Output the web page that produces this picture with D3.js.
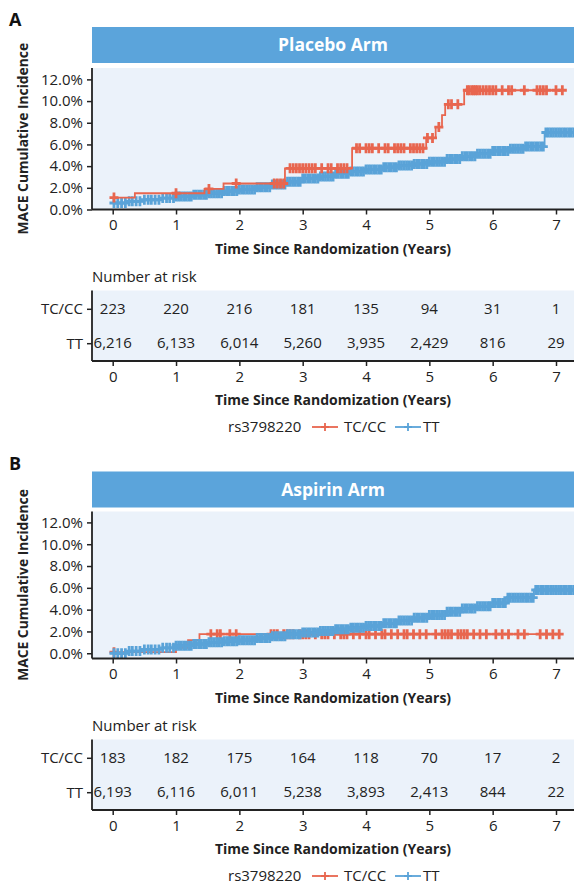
<!DOCTYPE html>
<html>
<head>
<meta charset="utf-8">
<script src="https://cdn.jsdelivr.net/npm/d3@7/dist/d3.min.js"></script>
<style>
  body { margin: 0; background: #fff; }
  svg { font-family: "Open Sans", sans-serif; }
</style>
</head>
<body>
<svg id="chart" width="574" height="884"></svg>
<script>
// ---- data ----
var years = [0, 1, 2, 3, 4, 5, 6, 7];
var yTicks = [0, 2, 4, 6, 8, 10, 12];
var groups = ["TC/CC", "TT"];

// cumulative incidence (%) step points [years, %]
var placeboTCCC = [[0, 1.1], [0.35, 1.5], [1.45, 1.9], [1.75, 2.4], [2.72, 3.8], [3.78, 5.65], [4.95, 6.6],
  [5.1, 7.6], [5.2, 8.7], [5.25, 9.7], [5.55, 11.0]];
var placeboTT = [[0, 0.6], [0.25, 0.75], [0.5, 0.9], [0.75, 1.05], [1, 1.2], [1.25, 1.35], [1.5, 1.5],
  [1.75, 1.7], [2, 1.85], [2.25, 2.05], [2.5, 2.3], [2.75, 2.55], [3, 2.85], [3.25, 3.05], [3.5, 3.3],
  [3.75, 3.5], [4, 3.7], [4.25, 3.9], [4.5, 4.05], [4.75, 4.2], [5, 4.4], [5.25, 4.65], [5.5, 4.9],
  [5.75, 5.15], [6, 5.4], [6.25, 5.6], [6.5, 5.8], [6.82, 7.1]];
var aspirinTCCC = [[0, 0.1], [1.0, 0.5], [1.19, 1.2], [1.37, 1.75]];
var aspirinTT = [[0, 0], [0.25, 0.2], [0.5, 0.35], [0.75, 0.5], [1, 0.7], [1.25, 0.85], [1.5, 1.0],
  [1.75, 1.1], [2, 1.2], [2.25, 1.4], [2.5, 1.55], [2.75, 1.75], [3, 1.9], [3.25, 2.05], [3.5, 2.2],
  [3.75, 2.35], [4, 2.5], [4.25, 2.75], [4.5, 3.0], [4.75, 3.25], [5, 3.5], [5.25, 3.8], [5.5, 4.1],
  [5.75, 4.3], [6, 4.6], [6.23, 5.1], [6.65, 5.8]];

// last follow-up time of each curve
var placeboEnd = [7.1, 7.3];
var aspirinEnd = [7.1, 7.3];

// censoring marks (years)
var placeboTCCCCensor = [0.02, 1.0, 1.52, 1.95, 2.55, 2.6, 2.65, 2.7, 2.8, 2.85, 2.9, 2.95, 3.0, 3.05, 3.1,
  3.15, 3.2, 3.3, 3.4, 3.45, 3.55, 3.6, 3.65, 3.7, 3.85, 3.9, 4.0, 4.05, 4.1, 4.2, 4.3, 4.35, 4.45, 4.5,
  4.55, 4.6, 4.7, 4.75, 4.8, 4.85, 4.9, 4.97, 5.05, 5.15, 5.3, 5.35, 5.45, 5.6, 5.63, 5.67, 5.7, 5.73,
  5.76, 5.8, 5.85, 5.9, 5.95, 6.0, 6.05, 6.15, 6.25, 6.3, 6.5, 6.7, 6.75, 6.8, 6.85, 7.0, 7.1];
var aspirinTCCCCensor = [0.02, 1.55, 1.65, 1.7, 1.85, 1.95, 2.5, 2.55, 2.6, 2.7, 2.75, 2.8, 2.85, 2.95, 3.0,
  3.05, 3.1, 3.2, 3.3, 3.35, 3.4, 3.5, 3.6, 3.65, 3.7, 3.8, 3.9, 4.0, 4.05, 4.15, 4.25, 4.3, 4.4, 4.5, 4.6,
  4.65, 4.75, 4.85, 4.95, 5.1, 5.2, 5.25, 5.3, 5.35, 5.45, 5.5, 5.55, 5.6, 5.7, 5.8, 5.9, 6.05, 6.15, 6.25,
  6.4, 6.5, 6.75, 6.85, 6.95, 7.05];
var ttCensor = [0.02, 0.08, 0.14, 0.2, 0.26, 0.31, 0.37, 0.43, 0.5, 0.56, 0.61, 0.67, 0.73, 0.79, 0.85, 0.9,
  0.96, 1.0, 1.04, 1.08, 1.12, 1.16, 1.2, 1.24, 1.28, 1.32, 1.36, 1.4, 1.44, 1.48, 1.52, 1.56, 1.6, 1.64,
  1.68, 1.72, 1.76, 1.8, 1.84, 1.88, 1.92, 1.96, 2.0, 2.04, 2.08, 2.12, 2.16, 2.2, 2.24, 2.28, 2.32, 2.36,
  2.4, 2.44, 2.48, 2.52, 2.56, 2.6, 2.64, 2.68, 2.72, 2.76, 2.8, 2.84, 2.88, 2.92, 2.96, 3.0, 3.04, 3.08,
  3.12, 3.16, 3.2, 3.24, 3.28, 3.32, 3.36, 3.4, 3.44, 3.48, 3.52, 3.56, 3.6, 3.64, 3.68, 3.72, 3.76, 3.8,
  3.84, 3.88, 3.92, 3.96, 4.0, 4.04, 4.08, 4.12, 4.16, 4.2, 4.24, 4.28, 4.32, 4.36, 4.4, 4.44, 4.48, 4.52,
  4.56, 4.6, 4.64, 4.68, 4.72, 4.76, 4.8, 4.84, 4.88, 4.92, 4.96, 5.0, 5.04, 5.08, 5.12, 5.16, 5.2, 5.24,
  5.28, 5.32, 5.36, 5.4, 5.44, 5.48, 5.52, 5.56, 5.6, 5.64, 5.68, 5.72, 5.76, 5.8, 5.84, 5.88, 5.92, 5.96,
  6.0, 6.04, 6.08, 6.12, 6.16, 6.2, 6.24, 6.28, 6.32, 6.36, 6.4, 6.44, 6.48, 6.52, 6.56, 6.6, 6.64, 6.68,
  6.72, 6.76, 6.8, 6.84, 6.88, 6.92, 6.96, 7.0, 7.04, 7.08, 7.12, 7.16, 7.2, 7.24, 7.28];

// number at risk
var placeboRiskTCCC = [223, 220, 216, 181, 135, 94, 31, 1];
var placeboRiskTT = [6216, 6133, 6014, 5260, 3935, 2429, 816, 29];
var aspirinRiskTCCC = [183, 182, 175, 164, 118, 70, 17, 2];
var aspirinRiskTT = [6193, 6116, 6011, 5238, 3893, 2413, 844, 22];

// ---- styling ----
var red = "#e8664f", blue = "#5aa3d8", band = "#5ba4db", plotBg = "#ebf2fa", ink = "#222";
var left = 92, right = 574;
var fmt = d3.format(",");
var svg = d3.select("#chart");

var x = d3.scaleLinear().domain([0, 7]).range([112.7, 556]);

function stepValue(points, t) {
  var v = points[0][1];
  points.forEach(function (p) { if (p[0] <= t) v = p[1]; });
  return v;
}

function crossPath(w, h) {
  return "M" + (-w) + ",0H" + w + "M0," + (-h) + "V" + h;
}

function styleAxis(a) {
  a.select(".domain").attr("stroke", ink).attr("stroke-width", 1.8);
  a.selectAll(".tick line").attr("stroke", ink).attr("stroke-width", 1.5);
  a.selectAll(".tick text").attr("fill", ink).style("font-size", "15px").style("font-family", "Open Sans");
}

function drawPanel(p) {
  var g = svg.append("g");

  // panel letter
  g.append("text").attr("x", 9).attr("y", p.labelY).attr("dy", "0.35em")
    .style("font-size", "18px").style("font-weight", 700).attr("fill", "#111").text(p.letter);

  // title band
  g.append("rect").attr("x", left).attr("y", p.headerTop)
    .attr("width", right - left).attr("height", p.headerBottom - p.headerTop).attr("fill", band);
  g.append("text").attr("x", (left + right) / 2).attr("y", (p.headerTop + p.headerBottom) / 2)
    .attr("dy", "0.36em").attr("text-anchor", "middle").attr("fill", "#fff")
    .style("font-size", "17.5px").style("font-weight", 700).text(p.title);

  // plot area
  var y = d3.scaleLinear().domain(p.yDomain).range([p.plotBottom, p.plotTop]);
  g.append("rect").attr("x", left).attr("y", p.plotTop)
    .attr("width", right - left).attr("height", p.plotBottom - p.plotTop).attr("fill", plotBg);

  var clipId = "clip" + p.letter;
  svg.append("clipPath").attr("id", clipId).append("rect")
    .attr("x", left).attr("y", p.plotTop).attr("width", right - left).attr("height", p.plotBottom - p.plotTop);

  var curves = g.append("g").attr("clip-path", "url(#" + clipId + ")");
  var line = d3.line().curve(d3.curveStepAfter)
    .x(function (d) { return x(d[0]); }).y(function (d) { return y(d[1]); });

  p.series.forEach(function (s) {
    var pts = s.points.concat([[s.end, s.points[s.points.length - 1][1]]]);
    curves.append("path").attr("d", line(pts)).attr("fill", "none")
      .attr("stroke", s.color).attr("stroke-width", 1.8);
    curves.selectAll(null).data(s.censor.filter(function (t) { return t <= s.end; })).enter()
      .append("path")
      .attr("transform", function (t) { return "translate(" + x(t) + "," + y(stepValue(s.points, t)) + ")"; })
      .attr("d", crossPath(4.5, 5)).attr("stroke", s.color).attr("stroke-width", 2.8).attr("fill", "none");
  });

  // axes
  var yAxis = g.append("g").attr("transform", "translate(" + left + ",0)")
    .call(d3.axisLeft(y).tickValues(yTicks).tickSize(5).tickSizeOuter(0).tickPadding(4)
      .tickFormat(function (d) { return d.toFixed(1) + "%"; }));
  var xAxis = g.append("g").attr("transform", "translate(0," + p.plotBottom + ")")
    .call(d3.axisBottom(x).tickValues(years).tickFormat(d3.format("d"))
      .tickSize(5).tickSizeOuter(0).tickPadding(5));
  styleAxis(yAxis);
  styleAxis(xAxis);
  // stretch the axis lines to the plot box
  yAxis.select(".domain").attr("d", "M0," + p.plotTop + "V" + p.plotBottom);
  xAxis.select(".domain").attr("d", "M" + left + ",0H" + right);

  g.append("text").attr("x", (left + right) / 2).attr("y", p.plotBottom + 40).attr("dy", "0.35em")
    .attr("text-anchor", "middle").attr("fill", ink).style("font-size", "14px").style("font-weight", 700)
    .text("Time Since Randomization (Years)");
  g.append("text")
    .attr("transform", "translate(23," + (p.plotTop + p.plotBottom) / 2 + ") rotate(-90)")
    .attr("dy", "0.35em").attr("text-anchor", "middle").attr("fill", ink)
    .style("font-size", "13.8px").style("font-weight", 700).text("MACE Cumulative Incidence");

  // number at risk table
  var boxTop = p.plotBottom + 81, boxBottom = boxTop + 70.5;
  g.append("text").attr("x", left).attr("y", p.plotBottom + 67.5).attr("dy", "0.35em")
    .attr("fill", ink).style("font-size", "15px").text("Number at risk");
  g.append("rect").attr("x", left).attr("y", boxTop).attr("width", right - left)
    .attr("height", boxBottom - boxTop).attr("fill", plotBg);

  var rowY = d3.scalePoint().domain(groups).range([boxTop + 18.3, boxTop + 52.7]);
  var rAxis = g.append("g").attr("transform", "translate(" + left + ",0)")
    .call(d3.axisLeft(rowY).tickSize(5).tickSizeOuter(0).tickPadding(4));
  var bAxis = g.append("g").attr("transform", "translate(0," + boxBottom + ")")
    .call(d3.axisBottom(x).tickValues(years).tickFormat(d3.format("d"))
      .tickSize(5).tickSizeOuter(0).tickPadding(5));
  styleAxis(rAxis);
  styleAxis(bAxis);
  rAxis.select(".domain").attr("d", "M0," + boxTop + "V" + boxBottom);
  bAxis.select(".domain").attr("d", "M" + left + ",0H" + right);

  [[groups[0], p.riskTCCC], [groups[1], p.riskTT]].forEach(function (row) {
    g.selectAll(null).data(row[1]).enter().append("text")
      .attr("x", function (d, i) { return x(years[i]); })
      .attr("y", rowY(row[0])).attr("dy", "0.35em").attr("text-anchor", "middle")
      .attr("fill", ink).style("font-size", "15px").text(function (d) { return fmt(d); });
  });

  g.append("text").attr("x", (left + right) / 2).attr("y", boxBottom + 39.3).attr("dy", "0.35em")
    .attr("text-anchor", "middle").attr("fill", ink).style("font-size", "14px").style("font-weight", 700)
    .text("Time Since Randomization (Years)");

  // legend
  var ly = boxBottom + 66;
  var lg = g.append("g").attr("transform", "translate(0," + ly + ")");
  lg.append("text").attr("x", 228).attr("dy", "0.35em").attr("fill", ink).style("font-size", "15px").text("rs3798220");
  var items = [{ label: groups[0], color: red, x0: 312, tx: 344 }, { label: groups[1], color: blue, x0: 395, tx: 423 }];
  items.forEach(function (it) {
    lg.append("line").attr("x1", it.x0).attr("x2", it.x0 + 26).attr("stroke", it.color).attr("stroke-width", 1.8);
    lg.append("path").attr("transform", "translate(" + (it.x0 + 13) + ",0)").attr("d", crossPath(4, 4))
      .attr("stroke", it.color).attr("stroke-width", 1.8);
    lg.append("text").attr("x", it.tx).attr("dy", "0.35em").attr("fill", ink).style("font-size", "15px").text(it.label);
  });
}

drawPanel({
  letter: "A", title: "Placebo Arm", labelY: 20,
  headerTop: 27, headerBottom: 63, plotTop: 68, plotBottom: 209.5, yDomain: [0, 13.05],
  series: [
    { points: placeboTT, end: placeboEnd[1], censor: ttCensor, color: blue },
    { points: placeboTCCC, end: placeboEnd[0], censor: placeboTCCCCensor, color: red }
  ],
  riskTCCC: placeboRiskTCCC, riskTT: placeboRiskTT
});

drawPanel({
  letter: "B", title: "Aspirin Arm", labelY: 464,
  headerTop: 471.5, headerBottom: 507.5, plotTop: 511.5, plotBottom: 658.5, yDomain: [-0.48, 13.0],
  series: [
    { points: aspirinTCCC, end: aspirinEnd[0], censor: aspirinTCCCCensor, color: red },
    { points: aspirinTT, end: aspirinEnd[1], censor: ttCensor, color: blue }
  ],
  riskTCCC: aspirinRiskTCCC, riskTT: aspirinRiskTT
});
</script>
</body>
</html>
